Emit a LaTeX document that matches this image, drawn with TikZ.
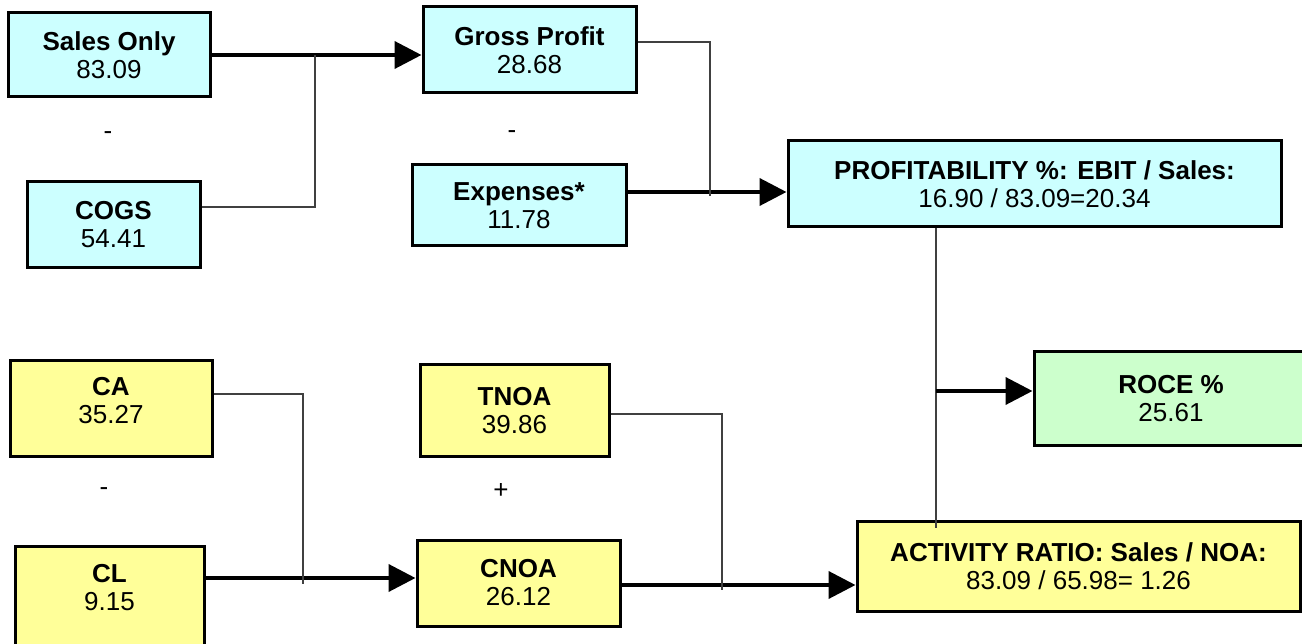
\documentclass[tikz,border=0pt]{standalone}
\usepackage{fontspec}
\setmainfont{Liberation Sans}
\usepackage{xcolor}
\usetikzlibrary{positioning,arrows.meta}
\definecolor{boxcyan}{HTML}{CCFFFF}
\definecolor{boxyellow}{HTML}{FFFF99}
\definecolor{boxgreen}{HTML}{CCFFCC}
\begin{document}
\begin{tikzpicture}[x=1pt,y=-1pt,
  box/.style={draw, line width=3pt, align=center, inner sep=0pt,
    font=\fontsize{26}{28}\selectfont},
  cyanbox/.style={box, fill=boxcyan},
  yellowbox/.style={box, fill=boxyellow},
  greenbox/.style={box, fill=boxgreen},
  op/.style={font=\fontsize{26}{28}\selectfont},
  flow/.style={line width=4pt, -{Triangle[length=27pt,width=27pt]}},
  link/.style={line width=1.2pt, draw=black!75}]
  \useasboundingbox (0,0) rectangle (1302,644);

  \node[cyanbox, minimum width=202pt, minimum height=84pt] (sales) at (109,55) {\textbf{Sales Only}\\83.09};
  \node[cyanbox, minimum width=173pt, minimum height=86pt] (cogs) at (113.5,225) {\textbf{COGS}\\54.41};
  \node[cyanbox, minimum width=213pt, minimum height=86pt] (gross) at (529.5,50) {\textbf{Gross Profit}\\28.68};
  \node[cyanbox, minimum width=214pt, minimum height=81pt] (exp) at (519,205.5) {\textbf{Expenses*}\\11.78};
  \node[cyanbox, minimum width=493pt, minimum height=86pt] (prof) at (1034.5,184) {\textbf{PROFITABILITY \%: EBIT / Sales:}\\16.90 / 83.09=20.34};

  \node[yellowbox, minimum width=202pt, minimum height=95pt] (ca) at (111,408.5) {\textbf{CA}\\35.27\\[-12pt]~};
  \node[yellowbox, minimum width=189pt, minimum height=110pt] (cl) at (109.5,601) {\textbf{CL}\\9.15\\~};
  \node[yellowbox, minimum width=189pt, minimum height=91pt] (tnoa) at (514.5,410.5) {\textbf{TNOA}\\39.86};
  \node[yellowbox, minimum width=203pt, minimum height=86pt] (cnoa) at (518.5,583) {\textbf{CNOA}\\26.12};
  \node[yellowbox, minimum width=443pt, minimum height=90pt] (act) at (1078.5,566) {\textbf{ACTIVITY RATIO: Sales / NOA:}\\83.09 / 65.98= 1.26};

  \node[greenbox, minimum width=274pt, minimum height=93pt] (roce) at (1171,398.5) {\textbf{ROCE \%}\\25.61};

  \node[op] (minus1) at (108,136) {-};
  \node[op] (minus2) at (512,135) {-};
  \node[op] (minus3) at (104,492) {-};
  \node[op] (plus1) at (501,491) {+};

  \coordinate (jgross) at (315,55);
  \coordinate (jprof) at (710,192);
  \coordinate (jroce) at (936,391);
  \coordinate (jcnoa) at (303,578);
  \coordinate (jact) at (722,585);

  \draw[flow] (sales.east) -- (sales.east -| gross.west);
  \draw[link] ([yshift=18pt]cogs.east) -| (jgross);
  \draw[flow] (exp.east |- jprof) -- (jprof -| prof.west);
  \draw[link] ([yshift=8pt]gross.east) -| ([yshift=-4pt]jprof);
  \draw[link] (prof.south -| jroce) -- ([yshift=-8pt]act.north -| jroce);
  \draw[flow] (jroce) -- (jroce -| roce.west);
  \draw[flow] (cl.east |- jcnoa) -- (jcnoa -| cnoa.west);
  \draw[link] ([yshift=14.5pt]ca.east) -| ([yshift=-6pt]jcnoa);
  \draw[flow] (cnoa.east |- jact) -- (jact -| act.west);
  \draw[link] ([yshift=-3.5pt]tnoa.east) -| ([yshift=-5pt]jact);
\end{tikzpicture}
\end{document}
